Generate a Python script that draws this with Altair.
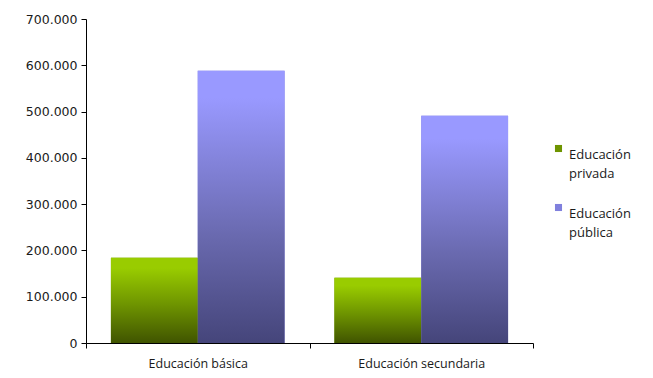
import altair as alt
import pandas as pd

categorias = ["Educación básica", "Educación secundaria"]
series = ["Educación privada", "Educación pública"]
privada = [184000, 141000]
publica = [588000, 491000]

rows = []
for i, c in enumerate(categorias):
    rows.append({"Nivel": c, "Serie": series[0], "Valor": privada[i]})
    rows.append({"Nivel": c, "Serie": series[1], "Valor": publica[i]})
df = pd.DataFrame(rows)

grad_green = alt.LinearGradient(
    gradient="linear", x1=0, x2=0, y1=0, y2=1,
    stops=[alt.GradientStop(color="#99CC00", offset=0),
           alt.GradientStop(color="#99CC00", offset=0.12),
           alt.GradientStop(color="#6E9400", offset=0.55),
           alt.GradientStop(color="#405400", offset=1)])
grad_purple = alt.LinearGradient(
    gradient="linear", x1=0, x2=0, y1=0, y2=1,
    stops=[alt.GradientStop(color="#9999FF", offset=0),
           alt.GradientStop(color="#9999FF", offset=0.1),
           alt.GradientStop(color="#6A6AB0", offset=0.6),
           alt.GradientStop(color="#45457A", offset=1)])

x_enc = alt.X("Nivel:N", sort=categorias, title=None,
              scale=alt.Scale(paddingInner=0, paddingOuter=0),
              axis=alt.Axis(labelAngle=0, tickBand="extent", labelPadding=19,
                            labelBaseline="alphabetic",
                            labelFont="Open Sans", labelFontSize=12.5, labelColor="#1a1a1a",
                            domainColor="#000000", tickColor="#000000", tickSize=5))
xo_enc = alt.XOffset("Serie:N", sort=series,
                     scale=alt.Scale(domain=series, paddingInner=0, paddingOuter=0.287))
y_enc = alt.Y("Valor:Q", title=None,
              scale=alt.Scale(domain=[0, 700000]),
              axis=alt.Axis(values=[0, 100000, 200000, 300000, 400000, 500000, 600000, 700000],
                            labelExpr="replace(format(datum.value, ','), ',', '.')",
                            grid=False, labelFont="DejaVu Sans", labelFontSize=12.5,
                            labelColor="#1a1a1a", labelPadding=4,
                            domainColor="#000000", tickColor="#000000", tickSize=5))

base = alt.Chart(df)

legend_layer = base.mark_bar().encode(
    x=x_enc, xOffset=xo_enc, y=y_enc,
    color=alt.Color("Serie:N", sort=series,
                    scale=alt.Scale(domain=series, range=["#6E9400", "#8080DD"]),
                    legend=alt.Legend(title=None, orient="none", legendX=466, legendY=123,
                                      symbolType="square", symbolSize=50,
                                      symbolStrokeWidth=0,
                                      labelExpr="split(datum.label, ' ')",
                                      labelFont="Open Sans", labelFontSize=13,
                                      labelColor="#1a1a1a", labelLimit=200,
                                      rowPadding=20, labelOffset=4,
                                      labelBaseline="top", symbolOffset=0)))

green = base.transform_filter(alt.datum.Serie == series[0]).mark_bar(color=grad_green).encode(
    x=x_enc, xOffset=xo_enc, y=y_enc)
purple = base.transform_filter(alt.datum.Serie == series[1]).mark_bar(color=grad_purple).encode(
    x=x_enc, xOffset=xo_enc, y=y_enc)

chart = alt.layer(legend_layer, green, purple).properties(
    width=447, height=324,
    autosize=alt.AutoSizeParams(type="none"),
    padding={"left": 78, "top": 11, "right": 105, "bottom": 27},
).configure(
    view=alt.ViewConfig(stroke=None),
    style={"guide-label": {"lineHeight": 19}},
)

chart.save("out.html", embed_options={"renderer": "svg", "actions": False})
